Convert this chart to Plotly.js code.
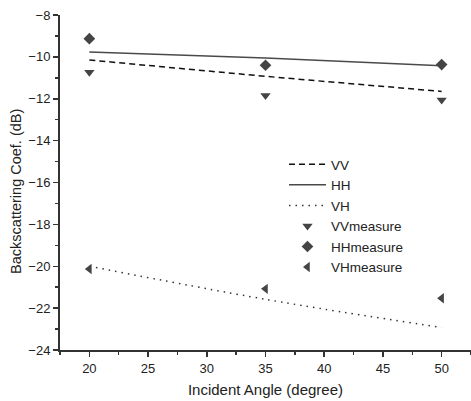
<!DOCTYPE html>
<html>
<head>
<meta charset="utf-8">
<script src="https://cdn.plot.ly/plotly-3.0.1.min.js"></script>
<style>html,body{margin:0;padding:0;background:#fff;}#chart{width:471px;height:401px;}</style>
</head>
<body>
<div id="chart"></div>
<script>
// Model curves
const angleModel = [20, 35, 50];
const vvModel = [-10.15, -10.93, -11.65];
const hhModel = [-9.77, -10.05, -10.42];
const vhModel = [-20.0, -21.58, -22.93];
// Measurements
const angleMeas = [20, 35, 50];
const vvMeas = [-10.74, -11.85, -12.06];
const hhMeas = [-9.13, -10.40, -10.37];
const vhMeas = [-20.13, -21.08, -21.53];

const font = {family: 'Arial, "Liberation Sans", sans-serif', color: '#222'};

const traces = [
  {x: angleModel, y: vvModel, name: 'VV', mode: 'lines', line: {color: '#111', width: 1.5, dash: '6px,4px'}},
  {x: angleModel, y: hhModel, name: 'HH', mode: 'lines', line: {color: '#4a4a4a', width: 1.5, shape: 'spline'}},
  {x: angleModel, y: vhModel, name: 'VH', mode: 'lines', line: {color: '#333', width: 1.5, dash: '1.5px,5px', shape: 'spline'}},
  {x: angleMeas, y: vvMeas, name: 'VVmeasure', mode: 'markers', marker: {symbol: 'triangle-down', size: 9, color: '#444'}},
  {x: angleMeas, y: hhMeas, name: 'HHmeasure', mode: 'markers', marker: {symbol: 'diamond', size: 9, color: '#444'}},
  {x: angleMeas, y: vhMeas, name: 'VHmeasure', mode: 'markers', marker: {symbol: 'triangle-left', size: 9, color: '#444'}}
];

const layout = {
  width: 471, height: 401,
  margin: {l: 60, r: 0, t: 15, b: 51},
  paper_bgcolor: '#fff', plot_bgcolor: '#fff',
  font: Object.assign({size: 13}, font),
  showlegend: true,
  legend: {x: 0.545, y: 0.60, xanchor: 'left', yanchor: 'top', bgcolor: 'rgba(0,0,0,0)',
           font: Object.assign({size: 13.5}, font), tracegroupgap: 0, itemwidth: 37},
  xaxis: {
    range: [17.5, 52.5], dtick: 5, tick0: 20,
    showgrid: false, zeroline: false,
    showline: true, linecolor: '#333', linewidth: 2,
    ticks: 'outside', ticklen: 5, tickwidth: 1.5, tickcolor: '#333',
    minor: {ticks: 'outside', ticklen: 3, tickwidth: 1.5, tickcolor: '#333', dtick: 2.5, showgrid: false},
    tickfont: Object.assign({size: 13}, font),
    title: {text: 'Incident Angle (degree)', font: Object.assign({size: 15}, font), standoff: 10}
  },
  yaxis: {
    range: [-24, -8], dtick: 2, tick0: -24,
    showgrid: false, zeroline: false,
    showline: true, linecolor: '#333', linewidth: 2,
    ticks: 'outside', ticklen: 5, tickwidth: 1.5, tickcolor: '#333',
    minor: {ticks: 'outside', ticklen: 3, tickwidth: 1.5, tickcolor: '#333', dtick: 1, showgrid: false},
    tickfont: Object.assign({size: 13}, font)
  },
  annotations: [{
    text: 'Backscattering Coef. (dB)', xref: 'paper', yref: 'paper',
    x: -0.107, y: 0.472, xanchor: 'center', yanchor: 'middle',
    textangle: -90, showarrow: false, font: Object.assign({size: 14.5}, font)
  }]
};

Plotly.newPlot('chart', traces, layout, {displayModeBar: false, staticPlot: true});
</script>
</body>
</html>
